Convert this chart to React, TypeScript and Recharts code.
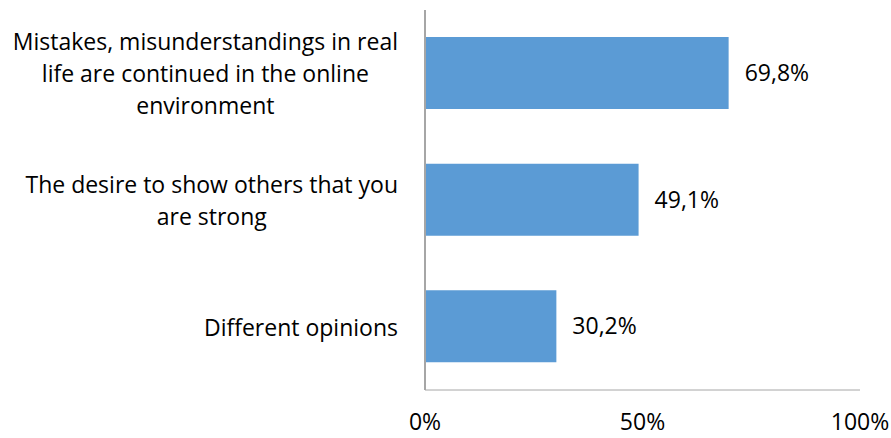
import { BarChart, Bar, XAxis, YAxis, LabelList } from 'recharts';

const categories = [
  'Mistakes, misunderstandings in real life are continued in the online environment',
  'The desire to show others that you are strong',
  'Different opinions',
];

const categoryLines: string[][] = [
  ['Mistakes, misunderstandings in real', 'life are continued in the online', 'environment'],
  ['The desire to show others that you', 'are strong'],
  ['Different opinions'],
];

const shares = [0.698, 0.491, 0.302];

const xTicks = [0, 0.5, 1];

const data = categories.map((name, i) => ({ name, value: shares[i] }));

const FONT = '"Open Sans", sans-serif';
const FONT_SIZE = 23;
const LINE_HEIGHT = 32;
const LABEL_RIGHT = 398;

let ctx: CanvasRenderingContext2D | null = null;
function measure(text: string): number {
  if (!ctx) ctx = document.createElement('canvas').getContext('2d');
  if (!ctx) return text.length * FONT_SIZE * 0.5;
  ctx.font = `${FONT_SIZE}px "Open Sans"`;
  return ctx.measureText(text).width;
}

function CategoryTick(props: any) {
  const { y, payload } = props;
  const idx = categories.indexOf(payload.value);
  const lines = categoryLines[idx] ?? [payload.value];
  const maxW = Math.max(...lines.map(measure));
  const cx = LABEL_RIGHT - maxW / 2;
  const startY = y - ((lines.length - 1) * LINE_HEIGHT) / 2;
  return (
    <text textAnchor="middle" fontFamily={FONT} fontSize={FONT_SIZE} fill="#000">
      {lines.map((line, i) => (
        <tspan key={i} x={cx} y={startY + i * LINE_HEIGHT} dominantBaseline="central">
          {line}
        </tspan>
      ))}
    </text>
  );
}

function PercentTick(props: any) {
  const { x, y, payload } = props;
  return (
    <text x={x} y={y + 23} textAnchor="middle" dominantBaseline="central" fontFamily={FONT} fontSize={FONT_SIZE} fill="#000">
      {`${Math.round(payload.value * 100)}%`}
    </text>
  );
}

export default function App() {
  return (
    <div style={{ position: 'absolute', left: 0, top: 0, width: 891, height: 438, background: '#fff' }}>
      <BarChart
        width={891}
        height={438}
        data={data}
        layout="vertical"
        margin={{ top: 10, right: 31, left: 0, bottom: 0 }}
      >
        <XAxis
          type="number"
          domain={[0, 1]}
          ticks={xTicks}
          height={48}
          tickLine={false}
          axisLine={{ stroke: '#a6a6a6', strokeWidth: 1 }}
          tick={<PercentTick />}
          interval={0}
        />
        <YAxis
          type="category"
          dataKey="name"
          width={425}
          tickLine={false}
          axisLine={{ stroke: '#a6a6a6', strokeWidth: 2 }}
          tick={<CategoryTick />}
          interval={0}
        />
        <Bar dataKey="value" fill="#5b9bd5" barSize={72} isAnimationActive={false}>
          <LabelList
            dataKey="value"
            position="right"
            offset={16}
            formatter={(v: any) => `${(Number(v) * 100).toFixed(1).replace('.', ',')}%`}
            style={{ fontFamily: FONT, fontSize: FONT_SIZE, fill: '#000' }}
          />
        </Bar>
      </BarChart>
    </div>
  );
}
